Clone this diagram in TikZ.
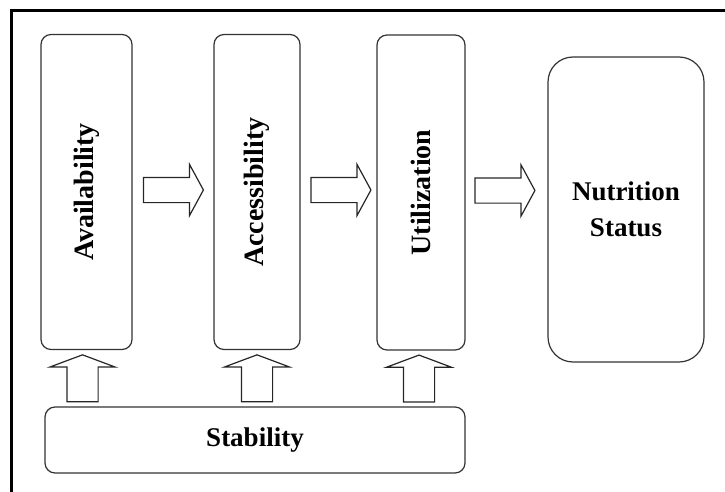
\documentclass[tikz,border=0pt]{standalone}
\usepackage{fontspec}
\setmainfont{Liberation Serif}
\usepackage{tikz}
\usetikzlibrary{shapes,arrows,positioning,calc}

\tikzset{
    pillar/.style={draw=black!80, line width=1.2pt, rounded corners=10pt, minimum width=#1, minimum height=315pt, inner sep=0pt, font=\fontsize{28}{30}\selectfont\bfseries},
    rightarrow/.style={single arrow, draw=black!85, line width=1.2pt, minimum height=60pt, inner xsep=0pt, inner ysep=12pt, single arrow head extend=13pt, single arrow head indent=0pt, single arrow tip angle=123},
    uparrow/.style={single arrow, draw=black!85, line width=1.2pt, minimum height=47pt, inner xsep=0pt, inner ysep=15pt, single arrow head extend=17pt, single arrow head indent=0pt, single arrow tip angle=139, rotate=90}
}

\begin{document}
\begin{tikzpicture}[x=1pt, y=-1pt]
    \useasboundingbox (0,0) rectangle (725,492);
    
    % Frame (open at right and bottom)
    \draw[line width=3pt] (11.5,492) -- (11.5,11) -- (725,11);
    
    % The three pillars
    \node[pillar=91pt] (avail) at (86.5,192) {\rotatebox{90}{Availability}};
    \node[pillar=86pt] (access) at (257,192) {\rotatebox{90}{Accessibility}};
    \node[pillar=88pt] (util) at (421,192.5) {\rotatebox{90}{Utilization}};
    
    % Outcome
    \node[draw=black!80, line width=1.2pt, rounded corners=25pt, minimum width=156pt, minimum height=305pt, align=center, font=\fontsize{27}{36}\selectfont\bfseries] (nutr) at (626,209.5) {Nutrition\\Status};
    
    % Base
    \node[draw=black!80, line width=1.2pt, rounded corners=10pt, minimum width=420pt, minimum height=66pt, font=\fontsize{27}{30}\selectfont\bfseries] (stab) at (255,440) {Stability};
    
    % Block arrows between the pillars
    \node[rightarrow] (a1) at ($(avail.east)!0.5!(avail.east -| access.west) + (-3,-2)$) {};
    \node[rightarrow] (a2) at ($(access.east)!0.5!(access.east -| util.west) + (-1,-2)$) {};
    \node[rightarrow] (a3) at ($(util.east)!0.5!(util.east -| nutr.west) + (-5,-2)$) {};
    
    % Block arrows from the base
    \foreach \p/\dx in {avail/-4,access/0,util/-2} {
        \node[uparrow] (up-\p) at ($(\p.south)!0.5!(\p.south |- stab.north) + (\dx,3)$) {};
    }
\end{tikzpicture}
\end{document}
